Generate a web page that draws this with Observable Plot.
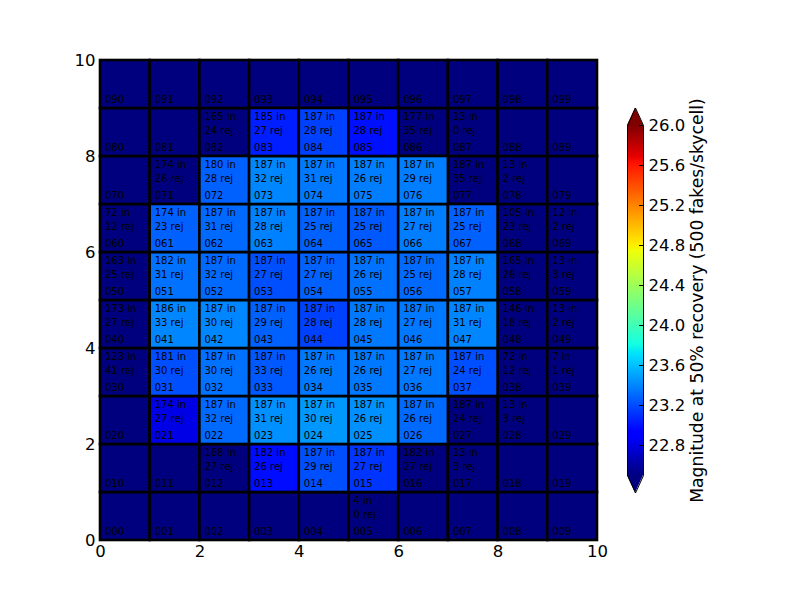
<!DOCTYPE html>
<html>
<head>
<meta charset="utf-8">
<script src="https://cdn.jsdelivr.net/npm/d3@7"></script>
<script src="https://cdn.jsdelivr.net/npm/@observablehq/plot@0.6"></script>
<style>
  html, body { margin: 0; padding: 0; background: white; }
  #wrap { position: relative; width: 800px; height: 600px; font-family: "DejaVu Sans", sans-serif; }
  #wrap svg { position: absolute; left: 0; top: 0; }
</style>
</head>
<body>
<div id="wrap"></div>
<script>
// ---- data (row index = y, column index = x; cell id "0" + row + col) ----
const gridRows = [0,1,2,3,4,5,6,7,8,9];
const gridCols = [0,1,2,3,4,5,6,7,8,9];

// number of fakes "in" per cell (null = blank)
const nIn = [
  [null,null,null,null,null,4,null,null,null,null],        // row 0
  [null,null,168,182,187,187,182,13,null,null],            // row 1
  [null,174,187,187,187,187,187,187,13,null],              // row 2
  [123,181,187,187,187,187,187,187,72,7],                  // row 3
  [173,186,187,187,187,187,187,187,146,13],                // row 4
  [163,182,187,187,187,187,187,187,165,13],                // row 5
  [72,174,187,187,187,187,187,187,105,12],                 // row 6
  [null,174,180,187,187,187,187,187,13,null],              // row 7
  [null,null,165,185,187,187,177,13,null,null],            // row 8
  [null,null,null,null,null,null,null,null,null,null]      // row 9
];
// number rejected per cell
const nRej = [
  [null,null,null,null,null,0,null,null,null,null],
  [null,null,27,26,29,27,27,3,null,null],
  [null,27,32,31,30,26,26,24,3,null],
  [41,30,30,33,26,26,27,24,12,1],
  [27,33,30,29,28,28,27,31,18,2],
  [25,31,32,27,27,26,25,28,26,3],
  [12,23,31,28,25,25,27,25,23,2],
  [null,26,28,32,31,26,29,35,2,null],
  [null,null,24,27,28,28,35,0,null,null],
  [null,null,null,null,null,null,null,null,null,null]
];
// magnitude at 50% recovery (null = below colour range / no value)
const mag = [
  [null,null,null,null,null,null,null,null,null,null],
  [null,null,null,22.98,23.21,23.12,null,null,null,null],
  [null,22.81,23.30,23.43,23.46,23.43,23.30,null,null,null],
  [null,23.21,23.33,23.24,23.35,23.35,23.35,23.21,null,null],
  [null,23.40,23.40,23.27,23.16,23.35,23.35,23.40,null,null],
  [null,23.33,23.30,23.21,23.27,23.33,23.30,23.38,null,null],
  [null,23.27,23.30,23.38,23.27,23.24,23.37,23.27,null,null],
  [null,null,23.27,23.40,23.35,23.37,23.37,null,null,null],
  [null,null,null,23.04,23.16,22.99,null,null,null,null],
  [null,null,null,null,null,null,null,null,null,null]
];
const axisTicks = [0,2,4,6,8,10];
const cbarTicks = [22.8,23.2,23.6,24.0,24.4,24.8,25.2,25.6,26.0];
const magDomain = [22.5, 26.0];
const cbarLabel = "Magnitude at 50% recovery (500 fakes/skycell)";

// ---- matplotlib "jet" colormap ----
const jetSeg = {
  r: [[0,0],[0.35,0],[0.66,1],[0.89,1],[1,0.5]],
  g: [[0,0],[0.125,0],[0.375,1],[0.64,1],[0.91,0],[1,0]],
  b: [[0,0.5],[0.11,1],[0.34,1],[0.65,0],[1,0]]
};
function segInterp(pts, t) {
  t = Math.max(0, Math.min(1, t));
  for (let i = 1; i < pts.length; i++) {
    if (t <= pts[i][0]) {
      const [t0, v0] = pts[i-1], [t1, v1] = pts[i];
      return v0 + (v1 - v0) * (t - t0) / (t1 - t0);
    }
  }
  return pts[pts.length-1][1];
}
function jet(t) {
  const c = k => Math.round(255 * segInterp(jetSeg[k], t));
  return `rgb(${c("r")},${c("g")},${c("b")})`;
}
const colorScale = {type: "linear", domain: magDomain, interpolate: t => jet(t), clamp: true};

// ---- table ----
const cells = [];
for (const r of gridRows) for (const c of gridCols) {
  cells.push({col: c, row: r, id: `0${r}${c}`, nin: nIn[r][c], nrej: nRej[r][c], mag: mag[r][c]});
}
const filled = cells.filter(d => d.nin != null);
const colored = cells.filter(d => d.mag != null);

const font = "DejaVu Sans, sans-serif";
const cellFont = 10;

const main = Plot.plot({
  width: 800, height: 600,
  marginLeft: 100, marginRight: 203, marginTop: 60, marginBottom: 60,
  x: {domain: [0, 10], label: null},
  y: {domain: [0, 10], label: null},
  color: colorScale,
  style: {fontFamily: font, fontSize: "16px", background: "white", color: "black"},
  marks: [
    Plot.rect(cells, {x1: d => d.col, x2: d => d.col + 1, y1: d => d.row, y2: d => d.row + 1,
      fill: "#00007f", stroke: "black", strokeWidth: 2.6}),
    Plot.rect(colored, {x1: d => d.col, x2: d => d.col + 1, y1: d => d.row, y2: d => d.row + 1,
      fill: d => d.mag, stroke: "black", strokeWidth: 2.6}),
    Plot.text(filled, {x: d => d.col, y: d => d.row + 1, text: d => `${d.nin} in`,
      dx: 4.5, dy: 8, textAnchor: "start", lineAnchor: "middle", fontSize: cellFont, fill: "black"}),
    Plot.text(filled, {x: d => d.col, y: d => d.row + 1, text: d => `${d.nrej} rej`,
      dx: 4.5, dy: 22, textAnchor: "start", lineAnchor: "middle", fontSize: cellFont, fill: "black"}),
    Plot.text(cells, {x: d => d.col, y: d => d.row, text: d => d.id,
      dx: 4.5, dy: -9, textAnchor: "start", lineAnchor: "middle", fontSize: cellFont, fill: "black"}),
    Plot.frame({stroke: "black", strokeWidth: 1}),
    Plot.axisX({ticks: axisTicks, tickSize: 0, tickPadding: 5, fontSize: 16.5, label: null}),
    Plot.axisY({ticks: axisTicks, tickSize: 0, tickPadding: 5, fontSize: 16.5, label: null})
  ]
});

// ---- colour bar ----
const nStrips = 350;
const step = (magDomain[1] - magDomain[0]) / nStrips;
const strips = d3.range(nStrips).map(i => magDomain[0] + i * step);
const ext = 0.175; // arrow length in data units (5% of bar)
const topTri = [{x: 0, y1: magDomain[1], y2: magDomain[1]}, {x: 0.5, y1: magDomain[1], y2: magDomain[1] + ext}, {x: 1, y1: magDomain[1], y2: magDomain[1]}];
const botTri = [{x: 0, y1: magDomain[0], y2: magDomain[0]}, {x: 0.5, y1: magDomain[0], y2: magDomain[0] - ext}, {x: 1, y1: magDomain[0], y2: magDomain[0]}];
const outline = [
  {x: 0, y: magDomain[0]}, {x: 0, y: magDomain[1]}, {x: 0.5, y: magDomain[1] + ext},
  {x: 1, y: magDomain[1]}, {x: 1, y: magDomain[0]}, {x: 0.5, y: magDomain[0] - ext}, {x: 0, y: magDomain[0]}
];

const cbar = Plot.plot({
  width: 800, height: 600,
  marginLeft: 627, marginRight: 157, marginTop: 125, marginBottom: 125,
  x: {domain: [0, 1], axis: null},
  y: {domain: magDomain, axis: null},
  color: colorScale,
  style: {fontFamily: font, fontSize: "16px", background: "transparent", color: "black", overflow: "visible"},
  marks: [
    Plot.rect(strips, {x1: 0, x2: 1, y1: d => d, y2: d => d + step, fill: d => d + step / 2, shapeRendering: "crispEdges"}),
    Plot.areaY(topTri, {x: "x", y1: "y1", y2: "y2", fill: jet(1)}),
    Plot.areaY(botTri, {x: "x", y1: "y1", y2: "y2", fill: jet(0)}),
    Plot.line(outline, {x: "x", y: "y", stroke: "black", strokeWidth: 1, curve: "linear"}),
    Plot.ruleY(cbarTicks, {x1: 0.75, x2: 1, stroke: "black", strokeWidth: 1}),
    Plot.text(cbarTicks, {x: 1, y: d => d, text: d => d.toFixed(1), dx: 5, textAnchor: "start", fontSize: 16.5, fill: "black"}),
    Plot.text([cbarLabel], {frameAnchor: "right", dx: 54, rotate: -90, textAnchor: "middle", fontSize: 17.2, fill: "black"})
  ]
});

const wrap = document.getElementById("wrap");
wrap.appendChild(main);
wrap.appendChild(cbar);
</script>
</body>
</html>
